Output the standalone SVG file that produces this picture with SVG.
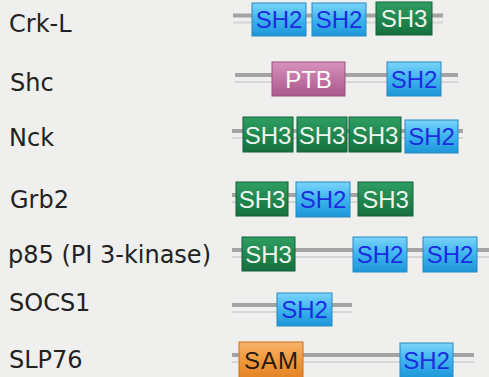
<svg xmlns="http://www.w3.org/2000/svg" width="489" height="377" viewBox="0 0 489 377">
<defs>
<linearGradient id="gSH2" x1="0" y1="0" x2="0" y2="1"><stop offset="0" stop-color="#7ad4fa"/><stop offset="0.5" stop-color="#3db4ee"/><stop offset="1" stop-color="#1d96d8"/></linearGradient>
<linearGradient id="gSH3" x1="0" y1="0" x2="0" y2="1"><stop offset="0" stop-color="#2f9e62"/><stop offset="0.5" stop-color="#21874f"/><stop offset="1" stop-color="#16703e"/></linearGradient>
<linearGradient id="gPTB" x1="0" y1="0" x2="0" y2="1"><stop offset="0" stop-color="#d692bc"/><stop offset="0.5" stop-color="#c274a4"/><stop offset="1" stop-color="#aa5a8c"/></linearGradient>
<linearGradient id="gSAM" x1="0" y1="0" x2="0" y2="1"><stop offset="0" stop-color="#f7b46a"/><stop offset="0.5" stop-color="#f0993c"/><stop offset="1" stop-color="#e38425"/></linearGradient>
</defs>
<style>
.lbl{font-family:"DejaVu Sans",sans-serif;font-size:24px;fill:#222}
.bt{font-family:"Liberation Sans",Arial,sans-serif;font-size:24px;text-anchor:middle}
.sh2{fill:url(#gSH2);stroke:#2a88c0;stroke-width:1}
.sh3{fill:url(#gSH3);stroke:#12603a;stroke-width:1}
.ptb{fill:url(#gPTB);stroke:#9a507e;stroke-width:1}
.sam{fill:url(#gSAM);stroke:#c87020;stroke-width:1}
.tsh2{fill:#1c2ce0}
.tsh3{fill:#eef5ee}
.tptb{fill:#fafafa}
.tsam{fill:#2a1a10;letter-spacing:1px}
.rod{stroke:#a4a4a4;stroke-width:4}
.rod2{stroke:#d6d6d6;stroke-width:2}
</style>
<rect width="489" height="377" fill="#efefed"/>
<g id="connectors">
<line class="rod" x1="233" y1="15.5" x2="443" y2="15.5"/><line class="rod2" x1="233" y1="22.5" x2="443" y2="22.5"/>
<line class="rod" x1="235" y1="75" x2="458" y2="75"/><line class="rod2" x1="235" y1="82" x2="458" y2="82"/>
<line class="rod" x1="232" y1="131" x2="463" y2="131"/><line class="rod2" x1="232" y1="138" x2="463" y2="138"/>
<line class="rod" x1="232" y1="195" x2="410" y2="195"/><line class="rod2" x1="232" y1="202" x2="410" y2="202"/>
<line class="rod" x1="232" y1="250" x2="489" y2="250"/><line class="rod2" x1="232" y1="257" x2="489" y2="257"/>
<line class="rod" x1="232" y1="305" x2="352" y2="305"/><line class="rod2" x1="232" y1="312" x2="352" y2="312"/>
<line class="rod" x1="232" y1="355" x2="474" y2="355"/><line class="rod2" x1="232" y1="362" x2="474" y2="362"/>
</g>
<g id="crkl">
<text class="lbl" x="9" y="32">Crk-L</text>
<rect class="sh2" x="252" y="3" width="54" height="33"/><text class="bt tsh2" x="279" y="28">SH2</text>
<rect class="sh2" x="312" y="3" width="54" height="33"/><text class="bt tsh2" x="339" y="28">SH2</text>
<rect class="sh3" x="376" y="2" width="56" height="33"/><text class="bt tsh3" x="404" y="27">SH3</text>
</g>
<g id="shc">
<text class="lbl" x="10" y="91">Shc</text>
<rect class="ptb" x="272" y="62" width="73" height="34"/><text class="bt tptb" x="308.5" y="87.5">PTB</text>
<rect class="sh2" x="387" y="62" width="54" height="34"/><text class="bt tsh2" x="414" y="87.5">SH2</text>
</g>
<g id="nck">
<text class="lbl" x="9" y="146">Nck</text>
<rect class="sh3" x="243" y="117" width="50" height="35"/><text class="bt tsh3" x="268" y="143.5">SH3</text>
<rect class="sh3" x="297" y="117" width="50" height="35"/><text class="bt tsh3" x="322" y="143.5">SH3</text>
<rect class="sh3" x="349" y="117" width="52" height="35"/><text class="bt tsh3" x="375" y="143.5">SH3</text>
<rect class="sh2" x="405" y="120" width="53" height="33"/><text class="bt tsh2" x="431.5" y="145">SH2</text>
</g>
<g id="grb2">
<text class="lbl" x="10" y="208">Grb2</text>
<rect class="sh3" x="236" y="182" width="52" height="34"/><text class="bt tsh3" x="262" y="207.5">SH3</text>
<rect class="sh2" x="296" y="182" width="54" height="35"/><text class="bt tsh2" x="323" y="208">SH2</text>
<rect class="sh3" x="358" y="182" width="55" height="34"/><text class="bt tsh3" x="385.5" y="207.5">SH3</text>
</g>
<g id="p85">
<text class="lbl" x="8" y="263">p85 (PI 3-kinase)</text>
<rect class="sh3" x="242" y="237" width="53" height="34"/><text class="bt tsh3" x="268.5" y="262.5">SH3</text>
<rect class="sh2" x="353" y="237" width="54" height="35"/><text class="bt tsh2" x="380" y="263">SH2</text>
<rect class="sh2" x="423" y="237" width="54" height="35"/><text class="bt tsh2" x="450" y="263">SH2</text>
</g>
<g id="socs1">
<text class="lbl" x="9" y="311">SOCS1</text>
<rect class="sh2" x="277" y="293" width="55" height="33"/><text class="bt tsh2" x="304.5" y="318">SH2</text>
</g>
<g id="slp76">
<text class="lbl" x="9" y="368">SLP76</text>
<rect class="sam" x="239" y="342" width="64" height="36"/><text class="bt tsam" x="271.5" y="368.5">SAM</text>
<rect class="sh2" x="400" y="343" width="53" height="35"/><text class="bt tsh2" x="426.5" y="369">SH2</text>
</g>
</svg>
